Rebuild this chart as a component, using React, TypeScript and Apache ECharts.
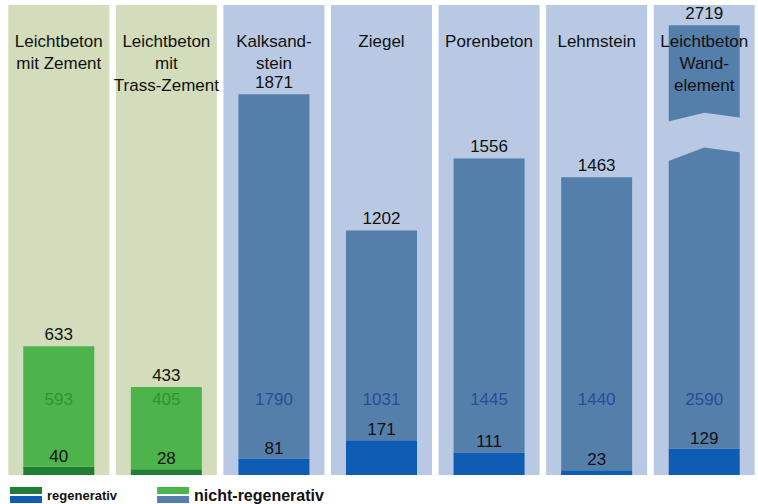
import React, { useEffect, useRef } from "react";
import * as echarts from "echarts";

const categories = [
  "Leichtbeton\nmit Zement",
  "Leichtbeton\nmit\nTrass-Zement",
  "Kalksand-\nstein",
  "Ziegel",
  "Porenbeton",
  "Lehmstein",
  "Leichtbeton\nWand-\nelement",
];
const regenerativ = [40, 28, 81, 171, 111, 23, 129];
const nichtRegenerativ = [593, 405, 1790, 1031, 1445, 1440, 2590];
const totals = [633, 433, 1871, 1202, 1556, 1463, 2719];
const groups = ["green", "green", "blue", "blue", "blue", "blue", "blue"];
const axisMax = 2310;
const brokenIndex = 6;
const brokenBarCap = 2210;
const breakRange = [1610, 1780];
const innerLabelLevel = 369;

const FONT = "'Liberation Sans', Arial, sans-serif";
const C = {
  panelGreen: "#d3dcbb",
  panelBlue: "#b9c9e3",
  barGreen: "#4cb44a",
  barGreenDark: "#1f7d36",
  barBlue: "#557fab",
  barBlueDark: "#0f5cb4",
  innerGreen: "#2a8a2c",
  innerBlue: "#1d3c92",
  text: "#111111",
};

export default function App() {
  const ref = useRef<HTMLDivElement>(null);
  useEffect(() => {
    document.body.style.margin = "0";
    document.body.style.background = "#ffffff";
    const chart = echarts.init(ref.current!, undefined, { renderer: "svg" });
    const isGreen = (i: number) => groups[i] === "green";
    const displayedNicht = nichtRegenerativ.map((v, i) =>
      i === brokenIndex ? brokenBarCap - regenerativ[i] : v
    );
    const grad = (a: string, b: string) =>
      new echarts.graphic.LinearGradient(0, 0, 0, 1, [
        { offset: 0, color: a },
        { offset: 0.45, color: a },
        { offset: 0.45, color: "#ffffff" },
        { offset: 0.55, color: "#ffffff" },
        { offset: 0.55, color: b },
        { offset: 1, color: b },
      ]);

    chart.setOption({
      animation: false,
      backgroundColor: "#ffffff",
      grid: { left: 5, top: 5, width: 764, height: 470 },
      yAxis: {
        type: "value",
        min: 0,
        max: axisMax,
        show: false,
      },
      xAxis: [
        {
          type: "category",
          data: categories,
          position: "bottom",
          axisLine: { show: false },
          axisTick: { show: false },
          axisLabel: { show: false },
        },
        {
          type: "category",
          data: categories,
          position: "top",
          z: 10,
          axisLine: { show: false },
          axisTick: { show: false },
          axisLabel: {
            inside: true,
            interval: 0,
            margin: 25,
            fontFamily: FONT,
            fontSize: 17,
            lineHeight: 22,
            color: C.text,
            align: "center",
          },
        },
      ],
      legend: {
        left: 10,
        top: 487,
        padding: 0,
        itemWidth: 32,
        itemHeight: 16,
        itemGap: 40,
        icon: "rect",
        data: [
          { name: "regenerativ", itemStyle: { color: grad(C.barGreenDark, C.barBlueDark) } },
          { name: "nicht-regenerativ", itemStyle: { color: grad(C.barGreen, C.barBlue) } },
        ],
        formatter: (name: string) =>
          name === "regenerativ" ? `{a|${name}}` : `{b|${name}}`,
        textStyle: {
          color: C.text,
          fontFamily: FONT,
          rich: {
            a: { fontSize: 13, fontWeight: "bold", fontFamily: FONT, color: C.text },
            b: { fontSize: 16, fontWeight: "bold", fontFamily: FONT, color: C.text },
          },
        },
      },
      series: [
        {
          name: "panel",
          type: "bar",
          xAxisIndex: 1,
          barWidth: 101,
          silent: true,
          z: 0,
          data: categories.map((_, i) => ({
            value: axisMax,
            itemStyle: { color: isGreen(i) ? C.panelGreen : C.panelBlue },
          })),
        },
        {
          name: "regenerativ",
          type: "bar",
          stack: "a",
          xAxisIndex: 0,
          barWidth: 71,
          z: 2,
          data: regenerativ.map((v, i) => ({
            value: v,
            itemStyle: { color: isGreen(i) ? C.barGreenDark : C.barBlueDark },
          })),
          label: {
            show: true,
            position: "top",
            distance: 2,
            fontFamily: FONT,
            fontSize: 17,
            color: C.text,
            formatter: (p: any) => String(regenerativ[p.dataIndex]),
          },
        },
        {
          name: "nicht-regenerativ",
          type: "bar",
          stack: "a",
          xAxisIndex: 0,
          barWidth: 71,
          z: 2,
          data: displayedNicht.map((v, i) => ({
            value: v,
            itemStyle: { color: isGreen(i) ? C.barGreen : C.barBlue },
          })),
          label: {
            show: true,
            position: "top",
            distance: 3,
            fontFamily: FONT,
            fontSize: 17,
            color: C.text,
            formatter: (p: any) => String(totals[p.dataIndex]),
          },
        },
        {
          name: "break",
          type: "custom",
          xAxisIndex: 0,
          silent: true,
          z: 3,
          data: [[brokenIndex, breakRange[0], breakRange[1]]],
          renderItem: (params: any, api: any) => {
            const lo = api.coord([api.value(0), api.value(1)]);
            const hi = api.coord([api.value(0), api.value(2)]);
            const xc = lo[0];
            const xl = xc - 37;
            const xr = xc + 37;
            return {
              type: "polygon",
              shape: {
                points: [
                  [xl, hi[1] + 9],
                  [xc, hi[1]],
                  [xr, hi[1] + 5],
                  [xr, lo[1] + 5],
                  [xc, lo[1]],
                  [xl, lo[1] + 14],
                ],
              },
              style: { fill: C.panelBlue },
            };
          },
        },
        {
          name: "inner",
          type: "scatter",
          xAxisIndex: 0,
          symbolSize: 0,
          silent: true,
          z: 4,
          data: nichtRegenerativ.map((v, i) => ({
            value: innerLabelLevel,
            label: {
              show: true,
              position: "inside",
              formatter: String(v),
              fontFamily: FONT,
              fontSize: 17,
              color: isGreen(i) ? C.innerGreen : C.innerBlue,
            },
          })),
        },
      ],
    });
    return () => chart.dispose();
  }, []);
  return <div ref={ref} style={{ width: 758, height: 504 }} />;
}
